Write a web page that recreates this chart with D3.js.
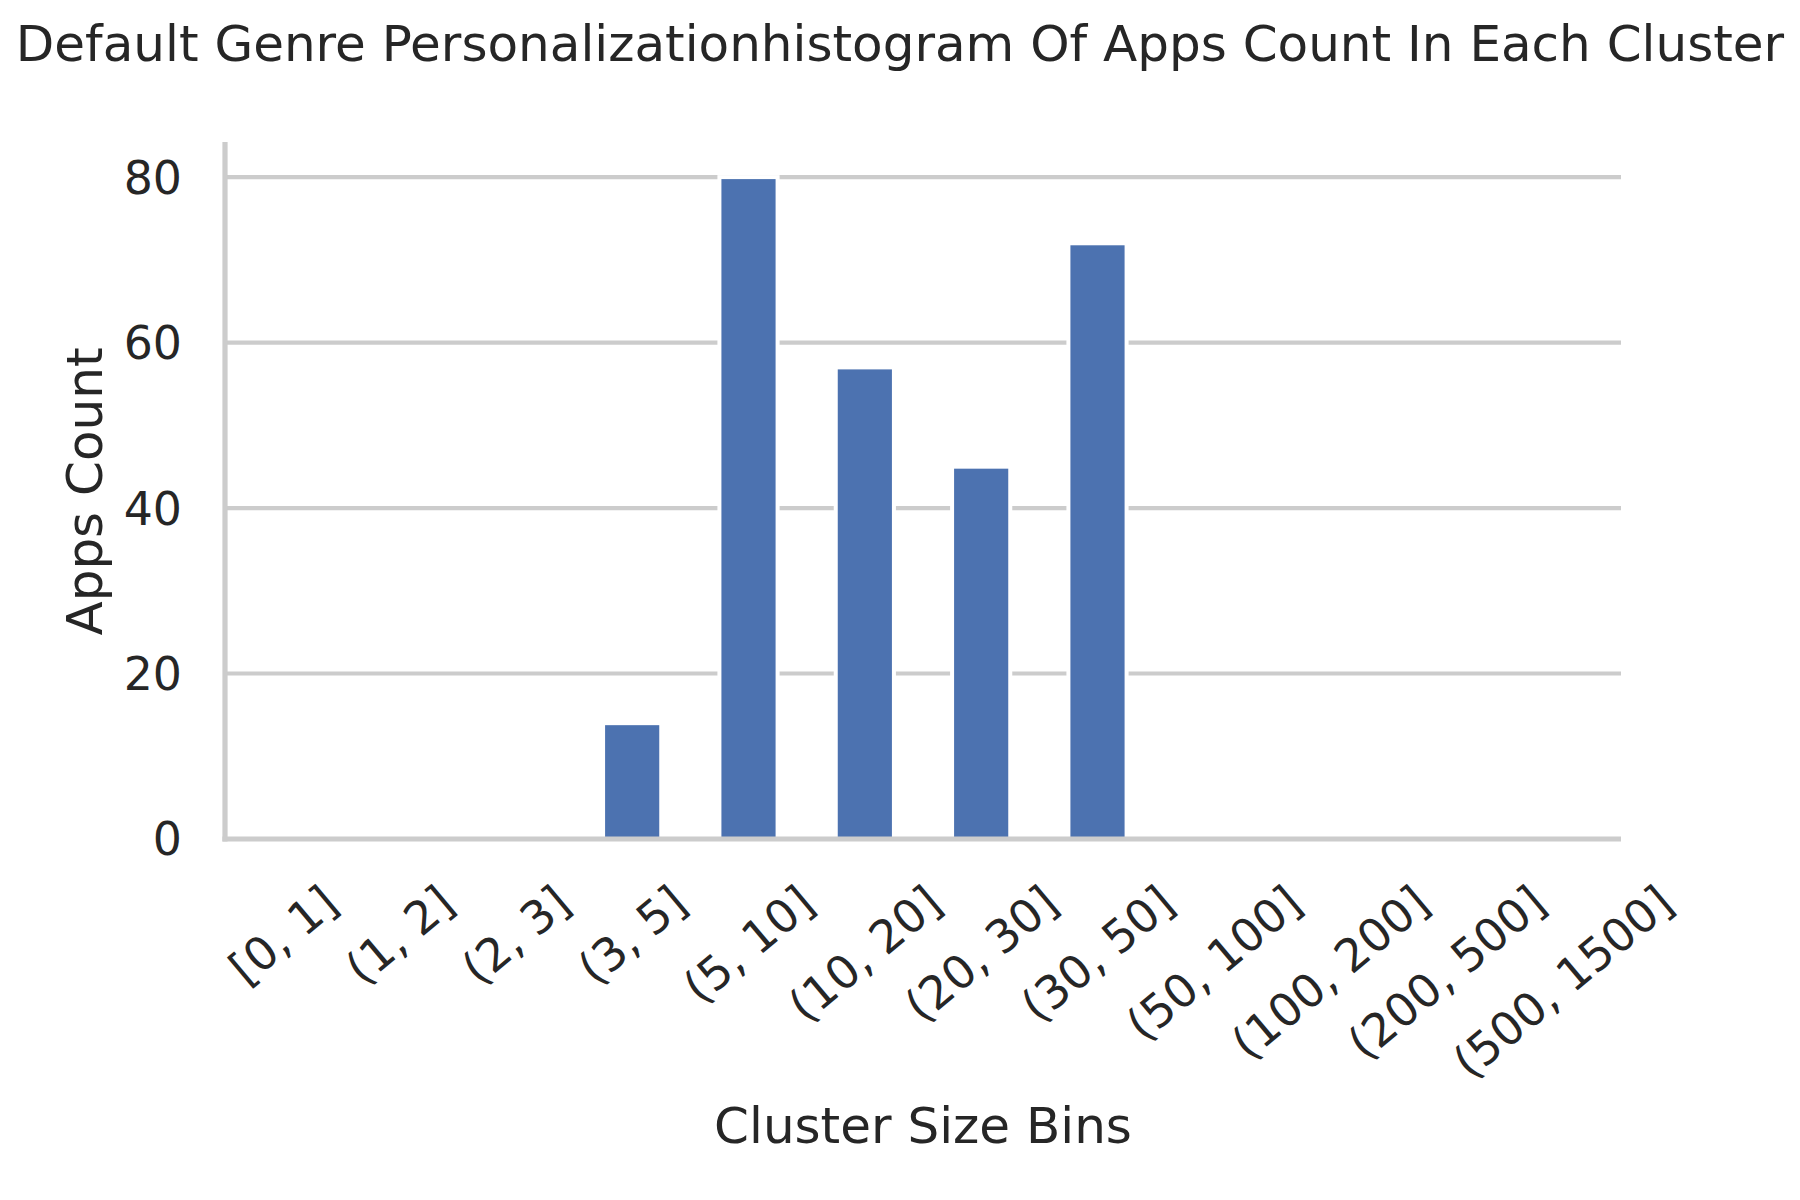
<!DOCTYPE html>
<html>
<head>
<meta charset="utf-8">
<script src="https://cdn.jsdelivr.net/npm/d3@7"></script>
<style>
    body { margin: 0; background: #ffffff; }
    svg text { font-family: "DejaVu Sans", sans-serif; fill: #262626; }
</style>
</head>
<body>
<script>
// Histogram bins and counts
var binLabels = ["[0, 1]", "(1, 2]", "(2, 3]", "(3, 5]", "(5, 10]", "(10, 20]",
    "(20, 30]", "(30, 50]", "(50, 100]", "(100, 200]", "(200, 500]", "(500, 1500]"];
var appCounts = [0, 0, 0, 14, 80, 57, 45, 72, 0, 0, 0, 0];
var yTicks = [0, 20, 40, 60, 80];

var chartTitle = "Default Genre Personalizationhistogram Of Apps Count In Each Cluster";
var xTitle = "Cluster Size Bins";
var yTitle = "Apps Count";

(function () {
    var width = 1800, height = 1200;
    var margin = { top: 144, right: 179, bottom: 361, left: 225 };
    var innerW = width - margin.left - margin.right;
    var innerH = height - margin.top - margin.bottom;

    var svg = d3.select("body").append("svg")
        .attr("width", width)
        .attr("height", height);

    var g = svg.append("g")
        .attr("transform", "translate(" + margin.left + "," + margin.top + ")");

    // Scales: bars take half of each category step
    var x = d3.scaleBand()
        .domain(binLabels)
        .range([0, innerW])
        .paddingInner(0.5)
        .paddingOuter(0.25);

    var y = d3.scaleLinear()
        .domain([0, 84])
        .range([innerH, 0]);

    // Horizontal grid lines
    g.selectAll(".grid")
        .data(yTicks)
        .enter()
        .append("line")
        .attr("class", "grid")
        .attr("x1", 0)
        .attr("x2", innerW)
        .attr("y1", function (d) { return y(d); })
        .attr("y2", function (d) { return y(d); })
        .attr("stroke", "#cccccc")
        .attr("stroke-width", 4.2);

    // Bars with white edges
    g.selectAll(".bar")
        .data(appCounts)
        .enter()
        .append("rect")
        .attr("class", "bar")
        .attr("x", function (d, i) { return x(binLabels[i]); })
        .attr("width", x.bandwidth())
        .attr("y", function (d) { return y(d); })
        .attr("height", function (d) { return innerH - y(d); })
        .attr("fill", "#4c72b0")
        .attr("stroke", function (d) { return d > 0 ? "#ffffff" : "none"; })
        .attr("stroke-width", 4);

    // Left and bottom spines
    g.append("line")
        .attr("x1", 0).attr("x2", 0)
        .attr("y1", -2).attr("y2", innerH + 2.6)
        .attr("stroke", "#cccccc")
        .attr("stroke-width", 5.2);

    g.append("line")
        .attr("x1", -2.6).attr("x2", innerW)
        .attr("y1", innerH).attr("y2", innerH)
        .attr("stroke", "#cccccc")
        .attr("stroke-width", 5.2);

    var fontSize = 45.8;

    // Y tick labels
    g.selectAll(".ytick")
        .data(yTicks)
        .enter()
        .append("text")
        .attr("class", "ytick")
        .attr("x", -43)
        .attr("y", function (d) { return y(d); })
        .attr("dy", "0.36em")
        .attr("text-anchor", "end")
        .style("font-size", fontSize + "px")
        .text(function (d) { return d; });

    // X tick labels rotated 40 degrees, top of rotated box just under axis
    var angle = 40 * Math.PI / 180;
    var boxH = 1.164 * fontSize;
    var labelTop = innerH + 36;

    var xLabels = g.selectAll(".xtick")
        .data(binLabels)
        .enter()
        .append("text")
        .attr("class", "xtick")
        .attr("text-anchor", "middle")
        .attr("dy", "0.35em")
        .style("font-size", fontSize + "px")
        .text(function (d) { return d; });

    xLabels.attr("transform", function (d) {
        var w = this.getComputedTextLength();
        var rotH = w * Math.sin(angle) + boxH * Math.cos(angle);
        var cx = x(d) + x.bandwidth() / 2;
        var cy = labelTop + rotH / 2;
        return "translate(" + cx + "," + cy + ") rotate(-40)";
    });

    // Axis titles
    svg.append("text")
        .attr("x", margin.left + innerW / 2)
        .attr("y", 1143)
        .attr("text-anchor", "middle")
        .style("font-size", "50px")
        .text(xTitle);

    svg.append("text")
        .attr("transform", "translate(102," + (margin.top + innerH / 2) + ") rotate(-90)")
        .attr("text-anchor", "middle")
        .style("font-size", "50px")
        .text(yTitle);

    // Figure title
    svg.append("text")
        .attr("x", width / 2)
        .attr("y", 61)
        .attr("text-anchor", "middle")
        .style("font-size", "50px")
        .text(chartTitle);
})();
</script>
</body>
</html>
